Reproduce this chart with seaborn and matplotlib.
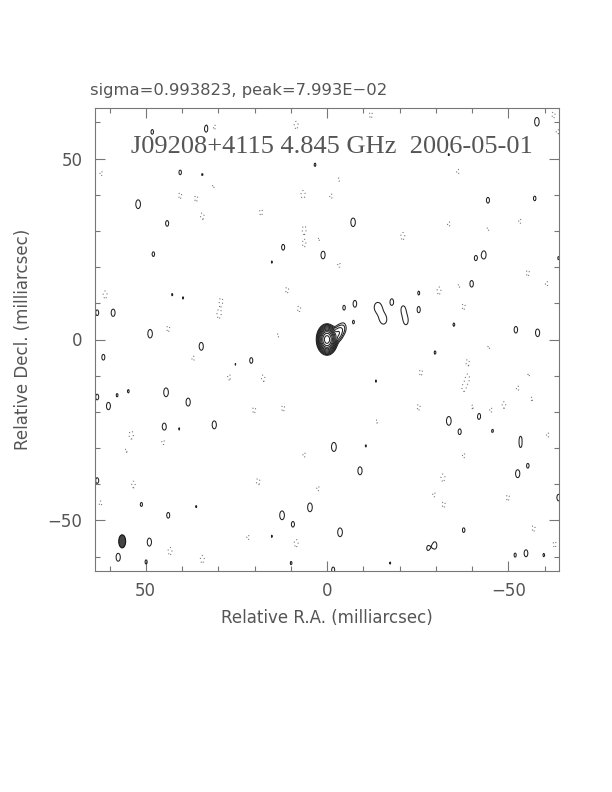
import numpy as np
import pandas as pd
import seaborn as sns
import matplotlib.pyplot as plt
from matplotlib.patches import Ellipse
from matplotlib.ticker import MultipleLocator

# map header values
source = 'J09208+4115'
freq = '4.845 GHz'
obs_date = '2006-05-01'
sigma = 0.993823
peak = 7.993E-02

# clean beam (mas)
beam_x, beam_y = 56.5, -55.8
beam_major, beam_minor = 3.6, 1.9

# core + jet components (RA offset mas, Dec offset mas, brightness, size vs beam)
jet_x = [0.0, -3.2, -4.6, -14.0, -15.6, -21.0, -21.8]
jet_y = [0.0, 1.8, 3.2, 9.0, 5.4, 8.4, 5.0]
jet_amp = [80.0, 5.0, 2.6, 2.45, 2.4, 2.2, 2.2]
jet_wx = [1.35, 1.0, 1.0, 1.8, 1.6, 1.3, 1.2]
jet_wy = [1.05, 1.0, 1.0, 1.25, 1.15, 1.2, 1.1]

# positive noise peaks
pos_x = [48.2, 32.3, 33.3, 40.5, 34.4, 52.1, 44.1, 47.9, 12.1, 1.1, 3.3, 15.2,
         -57.9, -33.6, -44.4, -57.3, -7.2, -41.0, -43.3, -63.9, 59.0, 48.8, 34.7, 61.7,
         20.9, 25.3, 42.7, 39.7, 54.8, 57.9, 60.3, 44.4, 38.3, -25.3, -17.9, -4.7,
         -7.7, -7.3, -25.3, -39.9, -35.0, -52.1, -58.1, -58.4, -29.8, -56.8, -13.5, 44.9,
         31.1, 40.8, 51.2, 43.8, 49.0, 57.6, 49.9, 12.4, 9.4, 4.7, 36.1, 15.2,
         9.9, -33.6, -41.9, -36.6, -45.7, -53.4, -53.4, -1.9, -9.1, -55.4, -52.6, -3.6,
         -37.7, -29.8, -27.8, -54.9, -51.9, -59.8, -1.7, -63.9, -15.2, -10.7, -17.4, 63.4,
         63.4, 63.4]
pos_y = [57.4, 62.0, 58.2, 46.2, 45.6, 37.4, 32.1, 23.6, 25.5, 23.4, 48.3, 21.4,
         60.2, 51.1, 38.5, 39.0, 32.4, 22.5, 23.4, 22.5, 7.4, 1.6, -1.9, -4.9,
         -5.8, -6.9, 12.4, 11.5, -14.3, -15.4, -18.4, -14.6, -17.3, 12.9, 10.4, 8.8,
         9.9, 4.8, 8.2, 15.4, 4.1, 2.7, 1.9, 9.3, -3.6, -12.9, -11.5, -24.2,
         -23.6, -24.7, -45.6, -48.6, -56.0, -60.2, -61.5, -48.6, -51.1, -46.4, -46.2, -54.4,
         -61.8, -22.5, -21.2, -25.5, -25.5, -26.9, -29.7, -29.7, -36.3, -34.9, -37.1, -53.3,
         -52.7, -56.9, -57.7, -59.1, -59.6, -59.6, -63.7, -43.7, -25.5, -29.4, -61.8, 7.4,
         -15.9, -39.0]
pos_amp = [2.2, 2.02, 2.4, 2.2, 2.05, 2.75, 2.3, 2.2, 2.3, 2.6, 2.1, 2.05,
           2.7, 2.05, 2.3, 2.2, 2.7, 2.2, 2.6, 2.1, 2.5, 2.7, 2.6, 2.3,
           2.3, 2.05, 2.05, 2.05, 2.1, 2.1, 2.5, 2.75, 2.6, 2.1, 2.3, 2.2,
           2.4, 2.1, 2.3, 2.4, 2.1, 2.4, 2.6, 2.1, 2.1, 2.1, 2.05, 2.6,
           2.6, 2.05, 2.15, 2.3, 2.6, 2.6, 2.15, 2.75, 2.3, 2.75, 2.05, 2.05,
           2.1, 2.75, 2.4, 2.3, 2.3, 1.75, 1.75, 2.8, 2.6, 2.2, 2.6, 2.75,
           2.2, 2.4, 2.1, 2.45, 2.15, 2.1, 2.3, 2.4, 2.05, 2.05, 2.05, 2.3,
           2.3, 2.3]

# negative noise peaks (dotted contours)
neg_x = [31.1, 8.5, 62.3, 40.5, 36.1, 31.4, 34.4, 18.2, 6.6, 6.3, 6.3, 2.2,
         -12.1, -62.5, -36.1, -1.1, -20.9, -33.6, -44.4, -53.2, -3.3, -63.6, 61.2, 29.2,
         29.8, 11.0, 7.7, 43.8, 36.9, 13.5, 27.0, 17.6, 20.1, 12.1, -3.3, -30.9,
         -36.4, -37.7, -55.4, -60.6, -44.6, -38.8, -25.9, -38.8, -37.7, -55.7, -52.6, -56.5,
         -25.3, -40.2, -45.2, -48.8, 54.0, 45.2, 55.4, 53.4, 62.5, 43.3, 34.4, 19.0,
         6.3, 2.5, 21.8, 8.5, -13.8, -46.3, -60.9, -37.7, -32.0, -29.5, -32.2, -49.9,
         -57.0, -62.8, -59.0]
neg_y = [58.8, 59.3, 45.9, 39.8, 39.0, 42.3, 34.1, 35.2, 40.1, 30.5, 26.4, 27.7,
         62.1, 62.1, 46.4, 39.6, 28.6, 31.9, 30.5, 32.7, 44.2, 57.4, 12.4, 10.7,
         6.9, 13.7, 8.5, 3.0, -5.2, 1.1, -10.4, -10.7, -19.5, -19.0, 20.6, 13.5,
         14.8, 9.1, 18.4, 15.4, -2.2, -6.3, -9.1, -10.7, -13.5, -9.9, -13.5, -16.2,
         -18.7, -18.7, -19.5, -18.1, -26.4, -28.3, -30.8, -40.1, -45.3, -58.5, -60.7, -39.3,
         -31.9, -41.2, -54.7, -56.3, -22.8, -28.6, -26.4, -32.1, -38.2, -42.9, -45.6, -43.7,
         -52.2, -56.6, 6.3]
neg_amp = [-2.3, -2.5, -2.2, -2.3, -2.3, -2.1, -2.4, -2.3, -2.6, -2.4, -2.3, -2.1,
           -2.3, -2.3, -2.2, -2.2, -2.5, -2.2, -2.1, -2.2, -2.1, -2.2, -2.5, -2.3,
           -2.5, -2.3, -2.3, -2.3, -2.2, -2.1, -2.3, -2.4, -2.3, -2.3, -2.2, -2.5,
           -2.1, -2.3, -2.3, -2.2, -2.1, -2.3, -2.3, -2.3, -2.3, -2.2, -2.2, -2.3,
           -2.3, -2.2, -2.2, -2.4, -2.6, -2.3, -2.1, -2.4, -2.2, -2.5, -2.5, -2.4,
           -2.2, -2.2, -2.2, -2.5, -2.2, -2.2, -2.2, -2.2, -2.5, -2.2, -2.3, -2.3,
           -2.3, -2.3, -2.1]

# contour levels
lowest = 2.0
pos_levels = [lowest * 2 ** (k / 2) for k in range(11)]
neg_levels = [-lowest]

noise = pd.concat([
    pd.DataFrame({'x': pos_x, 'y': pos_y, 'amp': pos_amp}),
    pd.DataFrame({'x': neg_x, 'y': neg_y, 'amp': neg_amp}),
], ignore_index=True)
noise['wx'] = 1.0
noise['wy'] = 1.0
jet = pd.DataFrame({'x': jet_x, 'y': jet_y, 'amp': jet_amp, 'wx': jet_wx, 'wy': jet_wy})
comps = pd.concat([jet, noise], ignore_index=True)

# restore the components with the clean beam
grid = np.linspace(-66, 66, 529)
X, Y = np.meshgrid(grid, grid)
sx = beam_minor / 2.3548
sy = beam_major / 2.3548
img = np.zeros_like(X)
for _, c in comps.iterrows():
    img += c['amp'] * np.exp(-0.5 * (((X - c['x']) / (sx * c['wx'])) ** 2
                                     + ((Y - c['y']) / (sy * c['wy'])) ** 2))

sns.set_style('ticks')
plt.rcParams['font.family'] = ['DejaVu Sans']

fig = plt.figure(figsize=(6.12, 7.92), dpi=100)
ax = fig.add_axes([95 / 612, 1 - 571 / 792, 464 / 612, 463 / 792])

ax.contour(X, Y, img, levels=pos_levels, colors='#222222', linewidths=0.75)
ax.contour(X, Y, img, levels=neg_levels, colors='#777777', linewidths=0.8,
           linestyles=[(0, (1, 2.5))])

ax.add_patch(Ellipse((beam_x, beam_y), width=beam_minor, height=beam_major,
                     facecolor='#444444', edgecolor='#111111', lw=0.8))

ax.set_xlim(64, -64)
ax.set_ylim(-64, 64)

ax.xaxis.set_major_locator(MultipleLocator(50))
ax.yaxis.set_major_locator(MultipleLocator(50))
ax.xaxis.set_minor_locator(MultipleLocator(10))
ax.yaxis.set_minor_locator(MultipleLocator(10))
ax.tick_params(which='both', direction='in', top=True, right=True,
               color='#777777', width=0.8, labelcolor='#555555', labelsize=12)
ax.tick_params(which='major', length=7)
ax.tick_params(which='minor', length=3.5)
ax.tick_params(axis='x', pad=8)
ax.tick_params(axis='y', pad=9)
for sp in ax.spines.values():
    sp.set_color('#777777')
    sp.set_linewidth(0.8)

ax.set_xlabel('Relative R.A. (milliarcsec)', fontsize=12, color='#555555')
ax.set_ylabel('Relative Decl. (milliarcsec)', fontsize=12, color='#555555')
ax.xaxis.set_label_coords(0.5, -0.082)
ax.yaxis.set_label_coords(-0.136, 0.5)

ax.text(-1.4, 53.3, f'{source} {freq}  {obs_date}', ha='center', va='center',
        fontsize=19, color='#555555', family='Liberation Serif')
fig.text(90 / 612, 1 - 90 / 792, f'sigma={sigma}, peak={peak:.3E}'.replace('-', '\u2212'),
         ha='left', va='center', fontsize=11.8, color='#555555')

fig.savefig('out.png', dpi=100)
